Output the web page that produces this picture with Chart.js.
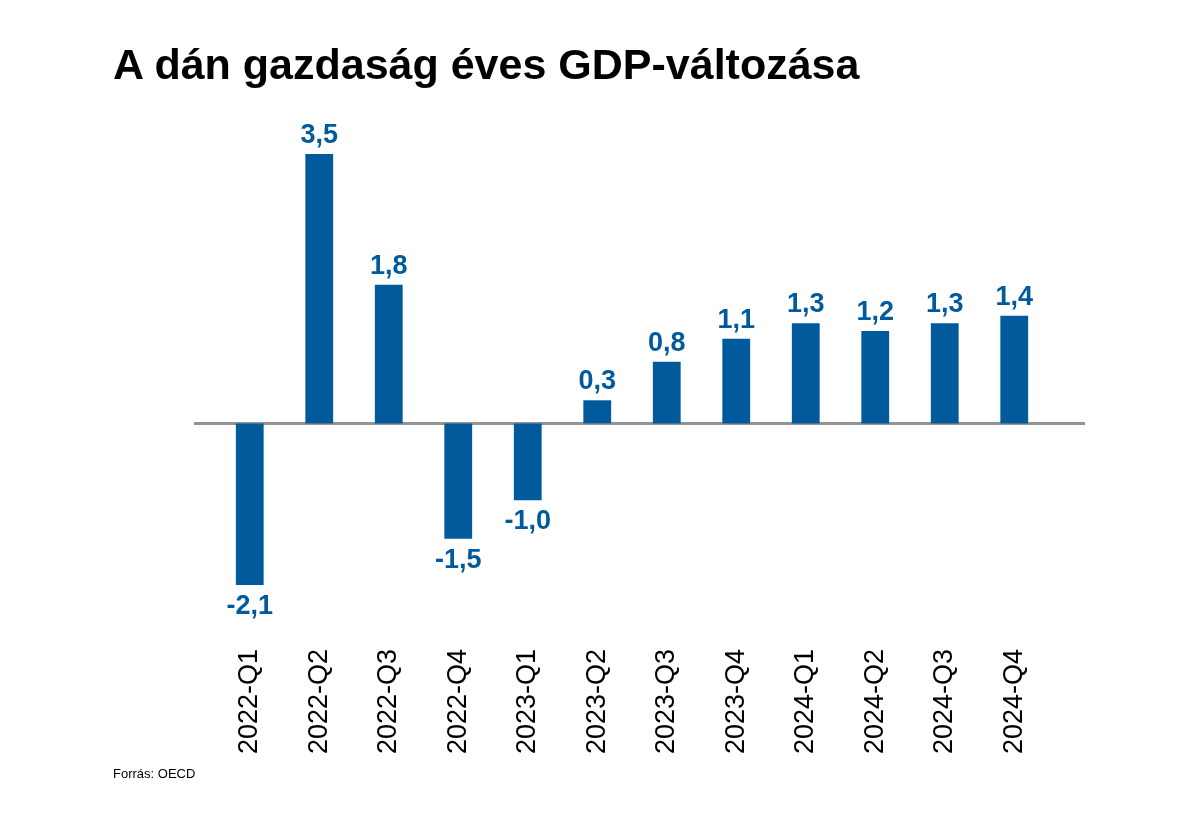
<!DOCTYPE html>
<html>
<head>
<meta charset="utf-8">
<script src="https://cdn.jsdelivr.net/npm/chart.js@4/dist/chart.umd.min.js"></script>
<style>
  html, body { margin: 0; padding: 0; background: #ffffff; }
  #wrap { position: relative; width: 1200px; height: 827px; overflow: hidden; }
  #title { position: absolute; left: 113px; top: 43px; font-family: "Liberation Sans", Arial, sans-serif; font-weight: bold; font-size: 43px; line-height: 43px; color: #000; white-space: nowrap; }
  #source { position: absolute; left: 113px; top: 767px; font-family: "Liberation Sans", Arial, sans-serif; font-size: 13px; line-height: 13px; color: #000; white-space: nowrap; }
  canvas { position: absolute; left: 0; top: 0; }
</style>
</head>
<body>
<div id="wrap">
  <canvas id="c" width="1200" height="827"></canvas>
  <div id="title">A dán gazdaság éves GDP-változása</div>
  <div id="source">Forrás: OECD</div>
</div>
<script>
const categories = ["2022-Q1","2022-Q2","2022-Q3","2022-Q4","2023-Q1","2023-Q2","2023-Q3","2023-Q4","2024-Q1","2024-Q2","2024-Q3","2024-Q4"];
const gdpChange = [-2.1, 3.5, 1.8, -1.5, -1.0, 0.3, 0.8, 1.1, 1.3, 1.2, 1.3, 1.4];

const BLUE = "#005A9C";

const zeroLine = {
  id: "zeroLine",
  beforeDatasetsDraw(chart) {
    const y = chart.scales.y.getPixelForValue(0);
    const ctx = chart.ctx;
    ctx.save();
    ctx.strokeStyle = "#939393";
    ctx.lineWidth = 3;
    ctx.beginPath();
    ctx.moveTo(chart.chartArea.left - 21, y);
    ctx.lineTo(chart.chartArea.right + 36, y);
    ctx.stroke();
    ctx.restore();
  }
};

const valueLabels = {
  id: "valueLabels",
  afterDatasetsDraw(chart) {
    const ctx = chart.ctx;
    const meta = chart.getDatasetMeta(0);
    const data = chart.data.datasets[0].data;
    ctx.save();
    ctx.fillStyle = BLUE;
    ctx.font = "bold 27px 'Liberation Sans', Arial, sans-serif";
    ctx.textAlign = "center";
    ctx.textBaseline = "alphabetic";
    meta.data.forEach((bar, i) => {
      const v = data[i];
      const txt = v.toFixed(1).replace(".", ",");
      if (v >= 0) {
        ctx.fillText(txt, bar.x, bar.y - 11);
      } else {
        ctx.fillText(txt, bar.x, bar.y + 29);
      }
    });
    ctx.restore();
  }
};

new Chart(document.getElementById("c"), {
  type: "bar",
  data: {
    labels: categories,
    datasets: [{
      data: gdpChange,
      backgroundColor: BLUE,
      borderWidth: 0,
      barPercentage: 0.4,
      categoryPercentage: 1.0
    }]
  },
  options: {
    responsive: false,
    animation: false,
    devicePixelRatio: 1,
    layout: { padding: { left: 215, right: 151, top: 154, bottom: 73 } },
    plugins: { legend: { display: false }, title: { display: false }, tooltip: { enabled: false } },
    scales: {
      x: {
        grid: { display: false, drawTicks: false },
        border: { display: false },
        ticks: {
          autoSkip: false,
          minRotation: 90,
          maxRotation: 90,
          padding: 64,
          color: "#000000",
          font: { family: "'Liberation Sans', Arial, sans-serif", size: 27 }
        },
        afterFit(scale) { scale.height = 169; }
      },
      y: {
        display: false,
        min: -2.1,
        max: 3.5
      }
    }
  },
  plugins: [zeroLine, valueLabels]
});
</script>
</body>
</html>
